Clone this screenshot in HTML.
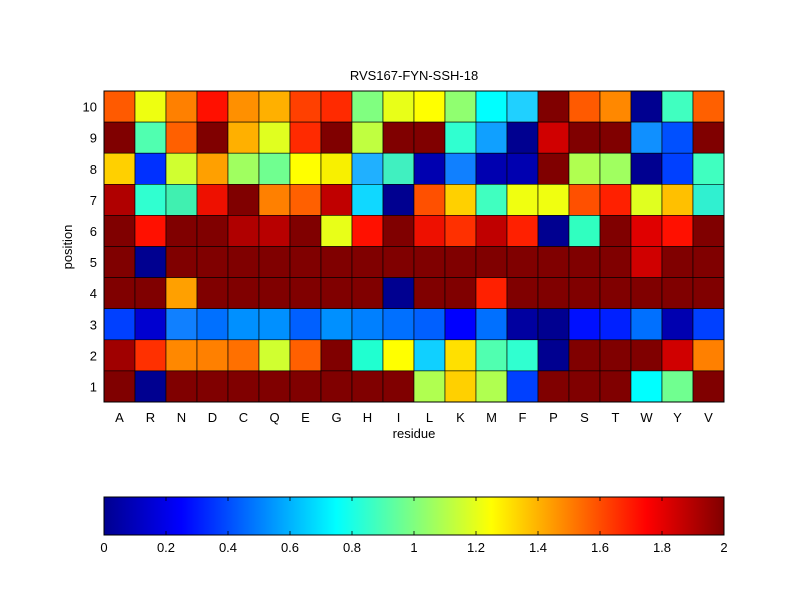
<!DOCTYPE html>
<html><head><meta charset="utf-8"><style>
html,body{margin:0;padding:0;background:#fff;}
svg{display:block;font-family:"Liberation Sans",Arial,sans-serif;}
</style></head><body>
<svg width="800" height="600" viewBox="0 0 800 600" xmlns="http://www.w3.org/2000/svg">
<defs>
<linearGradient id="jet" x1="0" x2="1" y1="0" y2="0">
<stop offset="0" stop-color="#00008f"/>
<stop offset="0.125" stop-color="#0000ff"/>
<stop offset="0.375" stop-color="#00ffff"/>
<stop offset="0.625" stop-color="#ffff00"/>
<stop offset="0.875" stop-color="#ff0000"/>
<stop offset="1" stop-color="#800000"/>
</linearGradient>
</defs>
<rect width="800" height="600" fill="#fff"/>
<g id="cells" stroke="#000" stroke-width="0.6"></g>
<rect x="104" y="91" width="620" height="311" fill="none" stroke="#000" stroke-width="1"/>
<text x="414" y="80" font-size="13" text-anchor="middle">RVS167-FYN-SSH-18</text>
<g id="yl" font-size="13" text-anchor="end"></g>
<g id="xl" font-size="13" text-anchor="middle"></g>
<text x="414" y="438" font-size="13" text-anchor="middle">residue</text>
<text x="0" y="0" font-size="13" text-anchor="middle" transform="translate(72,247) rotate(-90)">position</text>
<rect x="104" y="497" width="620" height="38" fill="url(#jet)" stroke="#000" stroke-width="1"/>
<g id="cb" font-size="13" text-anchor="middle"></g>
<script>
var rows=[
["#ff5a00","#eeff10","#ff8000","#ff1000","#ff9000","#ffb000","#ff4000","#ff2a00","#80ff80","#e8ff18","#ffff00","#90ff70","#00ffff","#20d0ff","#800000","#ff5a00","#ff8800","#000090","#40ffc0","#ff6000"],
["#800000","#50ffb0","#ff6000","#800000","#ffb000","#e0ff20","#ff2a00","#800000","#c0ff40","#800000","#800000","#30ffd0","#10a0ff","#000090","#d00000","#800000","#800000","#1090ff","#0050ff","#800000"],
["#ffd000","#0030ff","#d0ff30","#ffa000","#a0ff60","#70ff90","#ffff00","#f8f000","#20b0ff","#40f0c0","#0000b0","#1080ff","#0000b0","#0000b0","#800000","#b0ff50","#a0ff60","#000090","#0040ff","#40ffc0"],
["#b00000","#30ffd0","#40f0b0","#ee1000","#800000","#ff8000","#ff6000","#c00000","#10d8ff","#000090","#ff5000","#ffd000","#40ffc0","#f0ff10","#f0ff10","#ff5000","#ff2000","#e0ff20","#ffc000","#30f0d0"],
["#800000","#ff1000","#800000","#800000","#b00000","#b80000","#800000","#e8ff18","#ff1000","#800000","#ee1000","#ff3000","#c00000","#ff2000","#000090","#30ffc0","#800000","#e00000","#ff1000","#800000"],
["#800000","#000090","#800000","#800000","#800000","#800000","#800000","#800000","#800000","#800000","#800000","#800000","#800000","#800000","#800000","#800000","#800000","#d00000","#800000","#800000"],
["#800000","#800000","#ffa000","#800000","#800000","#800000","#800000","#800000","#800000","#000090","#800000","#800000","#ff2000","#800000","#800000","#800000","#800000","#800000","#800000","#800000"],
["#0040ff","#0000d0","#1080ff","#0070ff","#0090ff","#0090ff","#0060ff","#0090ff","#0080ff","#0070ff","#0060ff","#0000ff","#0070ff","#0000a0","#000090","#0010ff","#0020ff","#0070ff","#0000b0","#0040ff"],
["#a00000","#ff3000","#ff8800","#ff8000","#ff7000","#d0ff30","#ff6000","#800000","#20ffd0","#ffff00","#10d0ff","#ffe000","#50ffb0","#30ffd0","#000090","#800000","#800000","#800000","#d00000","#ff8000"],
["#800000","#000090","#800000","#800000","#800000","#800000","#800000","#800000","#800000","#800000","#b0ff50","#ffd000","#b0ff50","#0040ff","#800000","#800000","#800000","#00ffff","#70ff90","#800000"]];
var ns="http://www.w3.org/2000/svg";
function el(t,a,txt){var e=document.createElementNS(ns,t);for(var k in a)e.setAttribute(k,a[k]);if(txt!=null)e.textContent=txt;return e;}
var g=document.getElementById("cells"),ch=311/10;
for(var r=0;r<10;r++)for(var c=0;c<20;c++)g.appendChild(el("rect",{x:104+c*31,y:91+r*ch,width:31,height:ch,fill:rows[r][c]}));
var yl=document.getElementById("yl");
for(var r=0;r<10;r++)yl.appendChild(el("text",{x:97,y:91+r*ch+ch/2+5},String(10-r)));
var res="ARNDCQEGHILKMFPSTWYV".split(""),xl=document.getElementById("xl");
for(var c=0;c<20;c++)xl.appendChild(el("text",{x:104+c*31+15.5,y:422},res[c]));
var cb=document.getElementById("cb");
var labs=["0","0.2","0.4","0.6","0.8","1","1.2","1.4","1.6","1.8","2"];
for(var i=0;i<11;i++){var x=104+i*62;cb.appendChild(el("text",{x:x,y:552},labs[i]));
if(i>0&&i<10){cb.appendChild(el("line",{x1:x,x2:x,y1:497,y2:501,stroke:"#000","stroke-width":0.8}));cb.appendChild(el("line",{x1:x,x2:x,y1:531,y2:535,stroke:"#000","stroke-width":0.8}));}}
</script>
</svg>
</body></html>
